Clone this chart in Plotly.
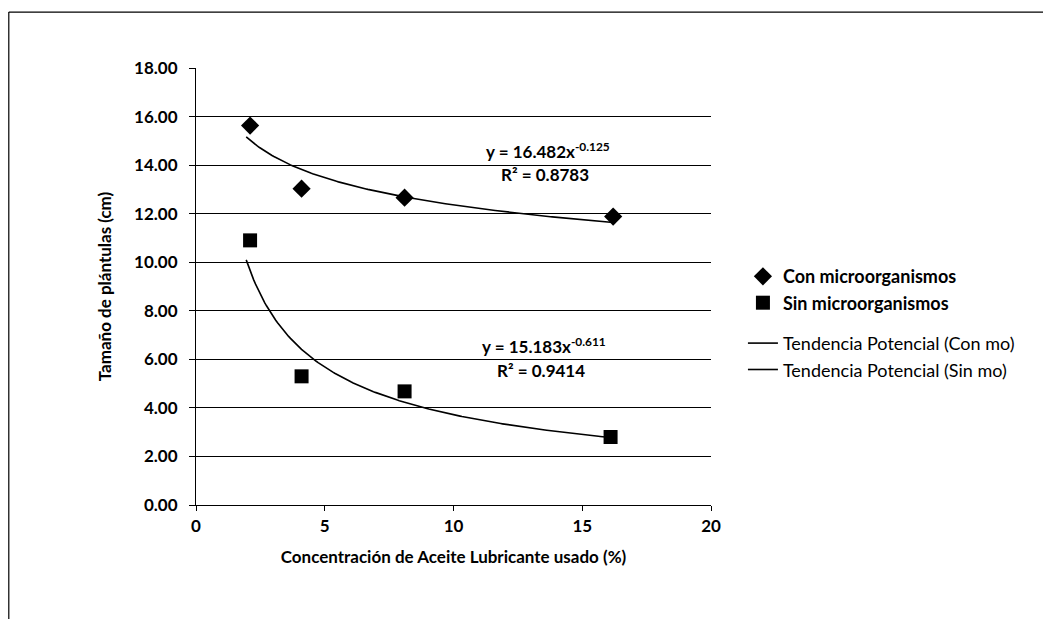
import numpy as np
import plotly.graph_objects as go

# Data
x_con = [2.1, 4.1, 8.1, 16.2]
y_con = [15.63, 13.03, 12.66, 11.88]
x_sin = [2.1, 4.1, 8.1, 16.1]
y_sin = [10.9, 5.3, 4.68, 2.8]

# Power trendline coefficients shown in the chart (y = a * x^b)
a_con, b_con, r2_con = 16.482, -0.125, 0.8783
a_sin, b_sin, r2_sin = 15.183, -0.611, 0.9414
trend_x_start, trend_x_end = 1.95, 16.2

names = ["Con microorganismos", "Sin microorganismos",
         "Tendencia Potencial (Con mo)", "Tendencia Potencial (Sin mo)"]

x_ticks = [0, 5, 10, 15, 20]
y_ticks = [0, 2, 4, 6, 8, 10, 12, 14, 16, 18]

FONT = "Lato"

xt = np.linspace(trend_x_start, trend_x_end, 200)

fig = go.Figure()
fig.add_trace(go.Scatter(x=x_con, y=y_con, mode="markers", name="<b>" + names[0] + "</b>",
                         marker=dict(symbol="diamond", size=14, color="black"),
                         legendgroup="pts"))
fig.add_trace(go.Scatter(x=x_sin, y=y_sin, mode="markers", name="<b>" + names[1] + "</b>",
                         marker=dict(symbol="square", size=14, color="black"),
                         legendgroup="pts"))
fig.add_trace(go.Scatter(x=xt, y=a_con * xt ** b_con, mode="lines", name=names[2],
                         line=dict(color="black", width=1.6), legendgroup="tr"))
fig.add_trace(go.Scatter(x=xt, y=a_sin * xt ** b_sin, mode="lines", name=names[3],
                         line=dict(color="black", width=1.6), legendgroup="tr"))

ann_font = dict(family=FONT, size=17, color="black")
fig.add_annotation(x=13.68, y=14.6, xref="x", yref="y", showarrow=False,
                   text=f"<b>y = {a_con}x<sup>{b_con}</sup></b>", font=ann_font)
fig.add_annotation(x=13.55, y=13.6, xref="x", yref="y", showarrow=False,
                   text=f"<b>R² = {r2_con}</b>", font=ann_font)
fig.add_annotation(x=13.52, y=6.55, xref="x", yref="y", showarrow=False,
                   text=f"<b>y = {a_sin}x<sup>{b_sin}</sup></b>", font=ann_font)
fig.add_annotation(x=13.4, y=5.55, xref="x", yref="y", showarrow=False,
                   text=f"<b>R² = {r2_sin}</b>", font=ann_font)

# Outer chart border (top and left edges visible in the reference)
fig.add_shape(type="line", xref="paper", yref="paper", x0=-0.3635, x1=1.70, y0=1.128, y1=1.128,
              line=dict(color="black", width=1.2))
fig.add_shape(type="line", xref="paper", yref="paper", x0=-0.3635, x1=-0.3635, y0=1.128, y1=-0.30,
              line=dict(color="black", width=1.2))

fig.update_layout(
    width=1051, height=619,
    paper_bgcolor="white", plot_bgcolor="white",
    margin=dict(l=188, r=348, t=60, b=122),
    font=dict(family=FONT, color="black"),
    legend=dict(x=1.062, y=0.565, xanchor="left", yanchor="top",
                font=dict(family=FONT, size=18, color="black"),
                tracegroupgap=14, itemwidth=30, bgcolor="rgba(0,0,0,0)"),
    showlegend=True,
)
fig.update_xaxes(range=[0, 20], tickvals=x_ticks, ticktext=[str(v) for v in x_ticks],
                 showgrid=False, zeroline=False, showline=True, linecolor="black", linewidth=1.2,
                 ticks="outside", ticklen=5, tickcolor="black",
                 tickfont=dict(family=FONT, size=17, color="black", weight="bold"),
                 title=dict(text="<b>Concentración de Aceite Lubricante usado (%)</b>",
                            font=dict(family=FONT, size=17, color="black"), standoff=16))
fig.update_yaxes(range=[0, 18], tickvals=y_ticks, ticktext=[f"{v:.2f}" for v in y_ticks],
                 showgrid=True, gridcolor="black", gridwidth=1, zeroline=False,
                 showline=True, linecolor="black", linewidth=1.2,
                 ticks="outside", ticklen=6, tickcolor="black", ticklabelstandoff=8,
                 tickfont=dict(family=FONT, size=17, color="black", weight="bold"),
                 title=dict(text="<b>Tamaño de plántulas (cm)</b>",
                            font=dict(family=FONT, size=17, color="black"), standoff=18))

fig.write_html("out.html")
